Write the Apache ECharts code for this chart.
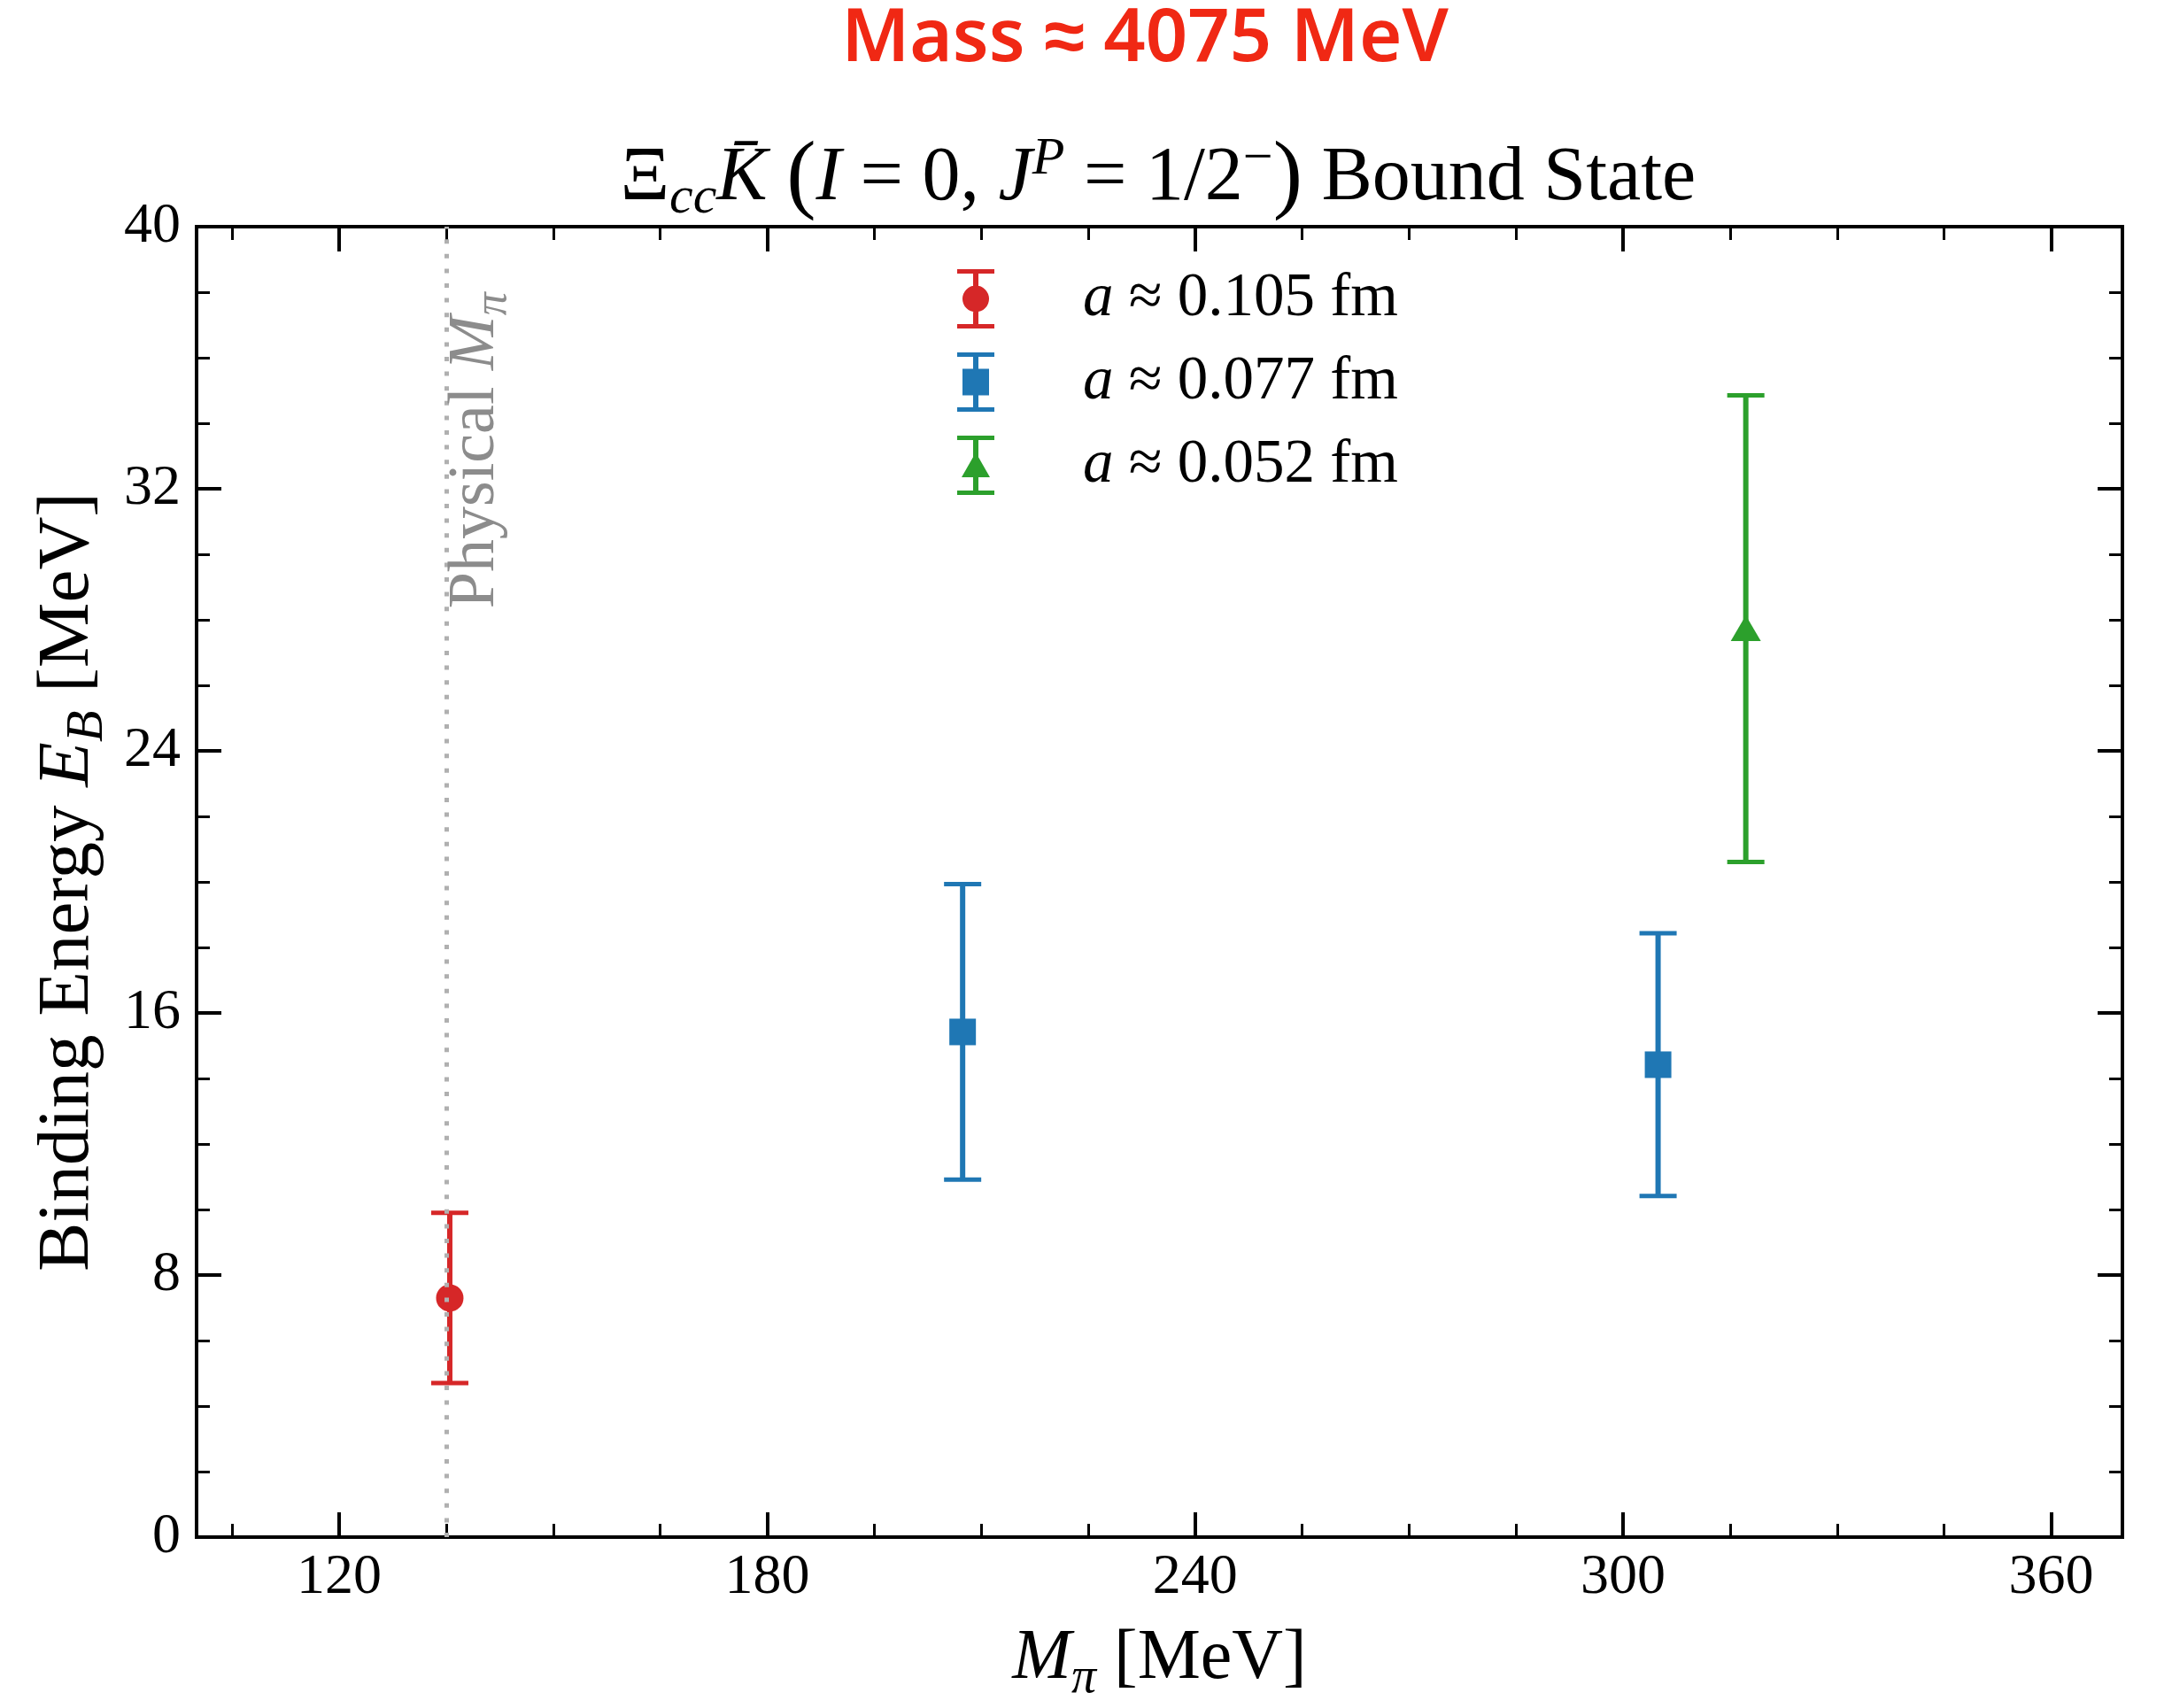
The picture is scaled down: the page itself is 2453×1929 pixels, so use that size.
<!DOCTYPE html>
<html>
<head>
<meta charset="utf-8">
<style>
  html, body { margin: 0; padding: 0; background: #ffffff; }
  #main { width: 2453px; height: 1929px; }
</style>
<script src="https://cdn.jsdelivr.net/npm/echarts@6/dist/echarts.min.js"></script>
</head>
<body>
<div id="main"></div>
<script>
// ---------------- data ----------------
const seriesNames = ['a ≈ 0.105 fm', 'a ≈ 0.077 fm', 'a ≈ 0.052 fm'];

const mpi105 = [135.5];
const eb105 = [7.30];
const err105 = [2.60];

const mpi077 = [207.4, 304.9];
const eb077 = [15.42, 14.42];
const err077 = [4.51, 4.01];

const mpi052 = [317.2];
const eb052 = [27.73];
const err052 = [7.12];

const physicalMpi = 135;

const xMajorTicks = [120, 180, 240, 300, 360];
const xMinorTicks = [105, 135, 150, 165, 195, 210, 225, 255, 270, 285, 315, 330, 345];

const supTitleText = 'Mass ≈ 4075 MeV';

// ---------------- styles ----------------
const SERIF = "'Liberation Serif', 'Times New Roman', serif";
const COLORS = ['#d62728', '#1f77b4', '#2ca02c'];

const chart = echarts.init(document.getElementById('main'), null, { renderer: 'canvas' });

function rows(xs, ys, es) { return xs.map((x, i) => [x, ys[i], es[i]]); }

function makeRender(shape) {
  return function (params, api) {
    const x = api.value(0), y = api.value(1), e = api.value(2);
    const c = api.coord([x, y]);
    const hi = api.coord([x, y + e]);
    const lo = api.coord([x, y - e]);
    const color = api.visual('color');
    const cap = 21;
    const children = [
      { type: 'line', shape: { x1: c[0], y1: hi[1], x2: c[0], y2: lo[1] }, style: { stroke: color, lineWidth: 6 } },
      { type: 'line', shape: { x1: c[0] - cap, y1: hi[1], x2: c[0] + cap, y2: hi[1] }, style: { stroke: color, lineWidth: 5 } },
      { type: 'line', shape: { x1: c[0] - cap, y1: lo[1], x2: c[0] + cap, y2: lo[1] }, style: { stroke: color, lineWidth: 5 } }
    ];
    if (shape === 'circle') {
      children.push({ type: 'circle', shape: { cx: c[0], cy: c[1], r: 15.5 }, style: { fill: color } });
    } else if (shape === 'square') {
      children.push({ type: 'rect', shape: { x: c[0] - 15, y: c[1] - 15, width: 30, height: 30 }, style: { fill: color } });
    } else {
      children.push({ type: 'polygon', shape: { points: [[c[0], c[1] - 15], [c[0] + 17, c[1] + 14], [c[0] - 17, c[1] + 14]] }, style: { fill: color } });
    }
    return { type: 'group', children: children };
  };
}

const capPath = 'M0 0 H42 V5 H0 Z M18 0 H24 V67 H18 Z M0 62 H42 V67 H0 Z ';
const iconCircle = 'path://' + capPath + 'M36 33.5 A15 15 0 1 1 6 33.5 A15 15 0 1 1 36 33.5 Z';
const iconSquare = 'path://' + capPath + 'M6 18.5 H36 V48.5 H6 Z';
const iconTri = 'path://' + capPath + 'M21 19 L37 47 L5 47 Z';

const tickBase = { fontSize: 64, fontFamily: SERIF, color: '#000', fontWeight: 'normal' };
function nameRich(size) {
  return {
    r: { fontSize: size, fontFamily: SERIF, color: '#000', lineHeight: size * 1.25, fontWeight: 'normal' },
    i: { fontSize: size, fontFamily: SERIF, fontStyle: 'italic', color: '#000', lineHeight: size * 1.25, fontWeight: 'normal' },
    sub: { fontSize: size * 0.7, fontFamily: SERIF, fontStyle: 'italic', color: '#000', lineHeight: size * 0.7, verticalAlign: 'bottom', fontWeight: 'normal' }
  };
}

const gridBox = { left: 222, right: 56, top: 256, bottom: 187 };

function xAxisDef(pos, ticks, len, width, withLabel) {
  return {
    type: 'value', min: 100, max: 370, position: pos, gridIndex: 0,
    axisLine: { show: false },
    splitLine: { show: false },
    axisTick: { show: true, inside: true, length: len, lineStyle: { color: '#000', width: width }, customValues: ticks },
    axisLabel: withLabel ? Object.assign({ show: true, margin: 14, customValues: ticks }, tickBase) : { show: false },
    name: withLabel ? '{i|M}{sub|π}{r| [MeV]}' : '',
    nameLocation: 'middle',
    nameGap: 88,
    nameTextStyle: { rich: nameRich(80) }
  };
}

function yAxisDef(pos, withLabel) {
  return {
    type: 'value', min: 0, max: 40, interval: 8, position: pos, gridIndex: 0,
    axisLine: { show: false },
    splitLine: { show: false },
    axisTick: { show: true, inside: true, length: 28, lineStyle: { color: '#000', width: 4 } },
    minorTick: { show: true, splitNumber: 4, length: 15, lineStyle: { color: '#000', width: 3 } },
    minorSplitLine: { show: false },
    axisLabel: withLabel ? Object.assign({ show: true, margin: 18 }, tickBase) : { show: false },
    name: withLabel ? '{r|Binding Energy }{i|E}{sub|B}{r| [MeV]}' : '',
    nameLocation: 'middle',
    nameGap: 93,
    nameTextStyle: { rich: nameRich(83) }
  };
}

const option = {
  animation: false,
  backgroundColor: '#ffffff',
  title: [
    {
      text: supTitleText,
      left: 1293, top: 4, textAlign: 'center', padding: 0,
      textStyle: { fontFamily: "'Noto Sans', sans-serif", fontSize: 83, fontWeight: 600, color: '#f02814' }
    },
    {
      text: '{r|Ξ}{sub|cc}{i|K̄}{r| }{p|(}{i|I}{r| = 0, }{i|J}{sup|P}{r| = 1/2}{supr|−}{p|)}{r| Bound State}',
      left: 1308, top: 150, textAlign: 'center', padding: 0,
      textStyle: {
        fontWeight: 'normal',
        rich: {
          r: { fontSize: 86, fontFamily: SERIF, color: '#000', lineHeight: 104, fontWeight: 'normal' },
          i: { fontSize: 86, fontFamily: SERIF, fontStyle: 'italic', color: '#000', lineHeight: 104, fontWeight: 'normal' },
          p: { fontSize: 100, fontFamily: SERIF, color: '#000', lineHeight: 104, fontWeight: 'normal' },
          sub: { fontSize: 60, fontFamily: SERIF, fontStyle: 'italic', color: '#000', lineHeight: 60, verticalAlign: 'bottom', fontWeight: 'normal' },
          sup: { fontSize: 60, fontFamily: SERIF, fontStyle: 'italic', color: '#000', lineHeight: 60, verticalAlign: 'top', fontWeight: 'normal' },
          supr: { fontSize: 60, fontFamily: SERIF, color: '#000', lineHeight: 60, verticalAlign: 'top', fontWeight: 'normal' }
        }
      }
    }
  ],
  grid: Object.assign({ show: true, borderColor: '#000', borderWidth: 4, backgroundColor: 'transparent', containLabel: false }, gridBox),
  legend: {
    orient: 'vertical',
    left: 1081, top: 303,
    padding: 0,
    itemWidth: 42, itemHeight: 67, itemGap: 25,
    selectedMode: false,
    data: [
      { name: seriesNames[0], icon: iconCircle },
      { name: seriesNames[1], icon: iconSquare },
      { name: seriesNames[2], icon: iconTri }
    ],
    formatter: function (name) { return '{i|a}{r|' + name.slice(1) + '}'; },
    textStyle: {
      padding: [0, 0, 0, 95],
      color: '#000',
      rich: {
        i: { fontSize: 69, fontFamily: SERIF, fontStyle: 'italic', color: '#000' },
        r: { fontSize: 69, fontFamily: SERIF, color: '#000' }
      }
    }
  },
  xAxis: [
    xAxisDef('bottom', xMajorTicks, 28, 4, true),
    xAxisDef('bottom', xMinorTicks, 15, 3, false),
    xAxisDef('top', xMajorTicks, 28, 4, false),
    xAxisDef('top', xMinorTicks, 15, 3, false)
  ],
  yAxis: [
    yAxisDef('left', true),
    yAxisDef('right', false)
  ],
  series: [
    {
      type: 'line', name: 'physical', data: [], xAxisIndex: 0, yAxisIndex: 0, silent: true, z: 1,
      markLine: {
        silent: true, symbol: ['none', 'none'], animation: false,
        label: { show: false },
        lineStyle: { color: '#b0b0b0', width: 5, type: [5, 11.6], cap: 'butt' },
        emphasis: { disabled: true },
        data: [{ xAxis: physicalMpi }]
      }
    },
    {
      type: 'custom', name: seriesNames[0], xAxisIndex: 0, yAxisIndex: 0, z: 3,
      itemStyle: { color: COLORS[0], borderWidth: 0 },
      encode: { x: 0, y: 1 },
      renderItem: makeRender('circle'),
      data: rows(mpi105, eb105, err105)
    },
    {
      type: 'custom', name: seriesNames[1], xAxisIndex: 0, yAxisIndex: 0, z: 3,
      itemStyle: { color: COLORS[1], borderWidth: 0 },
      encode: { x: 0, y: 1 },
      renderItem: makeRender('square'),
      data: rows(mpi077, eb077, err077)
    },
    {
      type: 'custom', name: seriesNames[2], xAxisIndex: 0, yAxisIndex: 0, z: 3,
      itemStyle: { color: COLORS[2], borderWidth: 0 },
      encode: { x: 0, y: 1 },
      renderItem: makeRender('triangle'),
      data: rows(mpi052, eb052, err052)
    }
  ]
};

chart.setOption(option);

// "Physical M_pi" annotation next to the physical pion mass line
const lineX = chart.convertToPixel({ xAxisIndex: 0 }, physicalMpi);
const plotTop = gridBox.top;
const plotH = 1929 - gridBox.top - gridBox.bottom;
chart.setOption({
  graphic: [{
    type: 'text',
    x: lineX + 34,
    y: plotTop + 0.05 * plotH,
    rotation: Math.PI / 2,
    silent: true,
    z: 5,
    style: {
      text: '{r|Physical }{i|M}{s|π}',
      align: 'right',
      verticalAlign: 'middle',
      fill: '#8c8c8c',
      rich: {
        r: { fontSize: 74, fontFamily: SERIF, fill: '#8c8c8c', lineHeight: 90 },
        i: { fontSize: 74, fontFamily: SERIF, fontStyle: 'italic', fill: '#8c8c8c', lineHeight: 90 },
        s: { fontSize: 52, fontFamily: SERIF, fontStyle: 'italic', fill: '#8c8c8c', lineHeight: 52, verticalAlign: 'bottom' }
      }
    }
  }]
});
</script>
</body>
</html>
